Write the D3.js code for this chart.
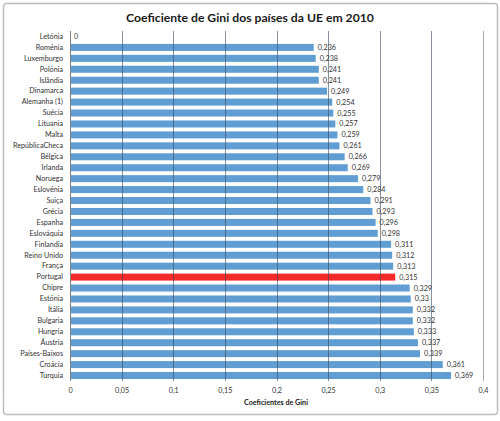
<!DOCTYPE html>
<html><head><meta charset="utf-8">
<script src="https://cdn.jsdelivr.net/npm/d3@7"></script>
<style>body{margin:0;background:#fff}svg{display:block}</style>
</head><body>
<script>
const countries = ["Letónia","Roménia","Luxemburgo","Polónia","Islândia","Dinamarca","Alemanha  (1)","Suécia","Lituania","Malta","RepúblicaCheca","Bélgica","Irlanda","Noruega","Eslovénia","Suiça","Grécia","Espanha","Eslováquia","Finlandia","Reino Unido","França","Portugal","Chipre","Estónia","Itália","Bulgaria","Hungria","Áustria","Países-Baixos","Croácia","Turquia"];
const gini = [0,0.236,0.238,0.241,0.241,0.249,0.254,0.255,0.257,0.259,0.261,0.266,0.269,0.279,0.284,0.291,0.293,0.296,0.298,0.311,0.312,0.313,0.315,0.329,0.33,0.332,0.332,0.333,0.337,0.339,0.361,0.369];
const labels = ["0","0,236","0,238","0,241","0,241","0,249","0,254","0,255","0,257","0,259","0,261","0,266","0,269","0,279","0,284","0,291","0,293","0,296","0,298","0,311","0,312","0,313","0,315","0,329","0,33","0,332","0,332","0,333","0,337","0,339","0,361","0,369"];
const xTicks = [0,0.05,0.1,0.15,0.2,0.25,0.3,0.35,0.4];
const xTickLabels = ["0","0,05","0,1","0,15","0,2","0,25","0,3","0,35","0,4"];
const highlight = "Portugal";

(function(){
const W=500,H=421;
const svg=d3.select("body").append("svg").attr("width",W).attr("height",H);
svg.append("rect").attr("x",3.5).attr("y",3.5).attr("width",494).attr("height",411)
  .attr("rx",3).attr("fill","#fff").attr("stroke","#bdbdbd").attr("stroke-width",1.5);

const font="Lato, 'Open Sans', sans-serif";
const pL=70,pR=483,pT=31,pB=381;
const x=d3.scaleLinear().domain([0,0.4]).range([pL,pR]);
const y=d3.scaleBand().domain(countries).range([pT,pB]).paddingInner(0.36).paddingOuter(0.18);

svg.append("text").attr("x",250).attr("y",22).attr("text-anchor","middle")
  .attr("font-family",font).attr("font-weight","bold").attr("font-size",12.2).attr("fill","#1a1a1a")
  .text("Coeficiente de Gini dos países da UE em 2010");

svg.append("g").selectAll("rect").data(countries).join("rect")
  .attr("x",x(0)).attr("y",d=>y(d)).attr("height",y.bandwidth())
  .attr("width",(d,i)=>x(gini[i])-x(0))
  .attr("fill",d=>d===highlight?"#f42a2a":"#5f9dd3");

svg.append("g").selectAll("line").data(xTicks.slice(1,-1)).join("line")
  .attr("x1",d=>Math.round(x(d))+0.5).attr("x2",d=>Math.round(x(d))+0.5)
  .attr("y1",pT).attr("y2",pB).attr("stroke","#3b4a5e").attr("stroke-opacity",0.6).attr("stroke-width",1);
svg.append("line").attr("x1",pR+0.5).attr("x2",pR+0.5).attr("y1",pT).attr("y2",pB)
  .attr("stroke","#a8a8a8");
svg.append("line").attr("x1",pL+0.5).attr("x2",pL+0.5).attr("y1",pT).attr("y2",pB)
  .attr("stroke","#808080");

const yAxis=d3.axisLeft(y).tickSize(0).tickPadding(7);
const ga=svg.append("g").attr("transform",`translate(${pL},0)`).call(yAxis);
ga.select(".domain").remove();
ga.selectAll("text").attr("font-family",font).attr("font-size",7.2).attr("fill","#333");

const xAxis=d3.axisBottom(x).tickValues(xTicks).tickFormat((d,i)=>xTickLabels[i]).tickSize(0).tickPadding(7);
const gx=svg.append("g").attr("transform",`translate(0,${pB})`).call(xAxis);
gx.select(".domain").remove();
gx.selectAll("text").attr("font-family",font).attr("font-size",7.2).attr("fill","#333");

svg.append("g").selectAll("text").data(countries).join("text")
  .attr("x",(d,i)=>x(gini[i])+4).attr("y",d=>y(d)+y.bandwidth()/2).attr("dy","0.35em")
  .attr("font-family",font).attr("font-size",7.2).attr("fill","#333")
  .text((d,i)=>labels[i]);

svg.append("text").attr("x",276).attr("y",405).attr("text-anchor","middle")
  .attr("font-family",font).attr("font-weight","bold").attr("font-size",7.2).attr("fill","#222")
  .text("Coeficientes de Gini");
})();
</script>
</body></html>
